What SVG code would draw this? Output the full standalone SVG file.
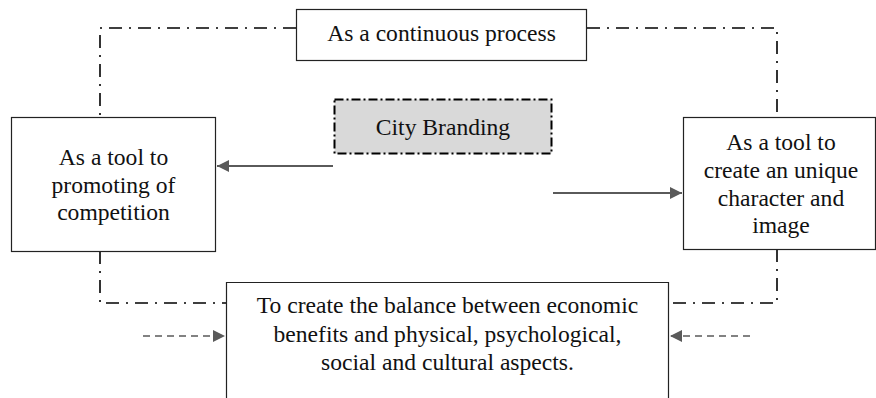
<svg xmlns="http://www.w3.org/2000/svg" width="876" height="398" viewBox="0 0 876 398">
<style>
  .box{fill:#fff;stroke:#222;stroke-width:1.2}
  .frame{fill:none;stroke:#000;stroke-width:1.6;stroke-dasharray:13 7 2 7}
  .t{font-family:"Liberation Serif","Times New Roman",serif;font-size:23.6px;fill:#111;text-anchor:middle}
  .arr{stroke:#5a5a5a;stroke-width:2;fill:none}
  .darr{stroke:#5a5a5a;stroke-width:1.6;fill:none;stroke-dasharray:7 5}
</style>
<defs>
  <marker id="ah" viewBox="0 0 10 10" refX="10" refY="5" markerWidth="16" markerHeight="12" markerUnits="userSpaceOnUse" orient="auto">
    <path d="M0,0 L10,5 L0,10 z" fill="#5a5a5a"/>
  </marker>
</defs>
<rect width="876" height="398" fill="#fff"/>
<g id="connectors">
  <path class="frame" d="M296,28 H100 V117"/>
  <path class="frame" d="M587,28 H777 V117"/>
  <path class="frame" d="M100,251 V303 H226"/>
  <path class="frame" d="M777,249 V303 H668"/>
  <line class="arr" x1="333" y1="166" x2="217" y2="166" marker-end="url(#ah)"/>
  <line class="arr" x1="553" y1="193" x2="682" y2="193" marker-end="url(#ah)"/>
  <line class="darr" x1="143" y1="336" x2="225" y2="336" marker-end="url(#ah)"/>
  <line class="darr" x1="750" y1="336" x2="670" y2="336" marker-end="url(#ah)"/>
</g>
<g id="top">
  <rect class="box" x="296.5" y="9.5" width="290" height="51"/>
  <text class="t" x="441.5" y="41">As a continuous process</text>
</g>
<g id="city">
  <rect x="334.5" y="99.5" width="217" height="54" fill="#d9d9d9" stroke="#000" stroke-width="2" stroke-dasharray="9 3 2 3"/>
  <text class="t" x="443" y="135">City Branding</text>
</g>
<g id="left">
  <rect class="box" x="11.5" y="117.5" width="204" height="134"/>
  <text class="t" x="113.5" y="165">As a tool to</text>
  <text class="t" x="113.5" y="192.5">promoting of</text>
  <text class="t" x="113.5" y="220">competition</text>
</g>
<g id="right">
  <rect class="box" x="683.5" y="117.5" width="192" height="132"/>
  <text class="t" x="781" y="150">As a tool to</text>
  <text class="t" x="781" y="178">create an unique</text>
  <text class="t" x="781" y="206">character and</text>
  <text class="t" x="781" y="233">image</text>
</g>
<g id="bottom">
  <path class="box" d="M226.5,399 V282.5 H668.5 V399"/>
  <text class="t" x="447.5" y="313">To create the balance between economic</text>
  <text class="t" x="447.5" y="342">benefits and physical, psychological,</text>
  <text class="t" x="447.5" y="370">social and cultural aspects.</text>
</g>
</svg>
